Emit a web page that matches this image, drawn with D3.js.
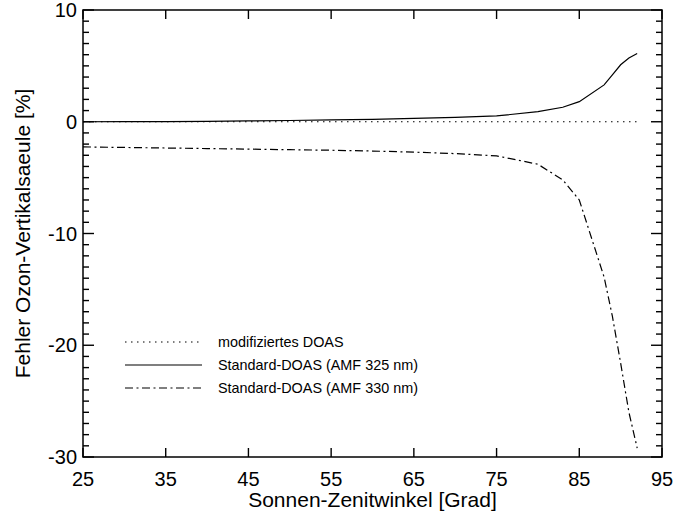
<!DOCTYPE html>
<html lang="de">
    <head>
        <meta charset="utf-8">
        <title>Fehler Ozon-Vertikalsaeule</title>
        <script type="text/javascript" src="https://cdn.jsdelivr.net/npm/d3@7"></script>
        <style type="text/css">
            body { margin: 0; background: #fff; }
            text { font-family: "Liberation Sans", Arial, sans-serif; }
        </style>
    </head>

    <body>
        <script type="text/javascript">
            // Sonnen-Zenitwinkel [Grad]
            var sza = [25, 30, 35, 40, 45, 50, 55, 60, 65, 70, 75, 80, 83, 85, 88, 89, 90, 91, 92];
            // modifiziertes DOAS
            var modDoas = [0, 0, 0, 0, 0, 0, 0, 0, 0, 0, 0, 0, 0, 0, 0, 0, 0, 0, 0];
            // Standard-DOAS (AMF 325 nm)
            var std325 = [0.0, 0.01, 0.02, 0.04, 0.07, 0.11, 0.16, 0.22, 0.3, 0.4, 0.52, 0.9, 1.3, 1.8, 3.3, 4.2, 5.1, 5.7, 6.1];
            // Standard-DOAS (AMF 330 nm)
            var std330 = [-2.25, -2.3, -2.35, -2.4, -2.45, -2.5, -2.55, -2.62, -2.72, -2.85, -3.05, -3.8, -5.2, -7.0, -13.9, -17.4, -21.6, -26.0, -29.2];

            var xTicks = [25, 35, 45, 55, 65, 75, 85, 95];
            var yTicks = [-30, -20, -10, 0, 10];
            var yMinorTicks = d3.range(-30, 11, 1);

            var legendLabels = ["modifiziertes DOAS", "Standard-DOAS (AMF 325 nm)", "Standard-DOAS (AMF 330 nm)"];
            var dashes = ["1.5,4.5", null, "8,3.5,2,3.5"];

            var w = 675;
            var h = 513;
            // plot box (avoid "top", it is window.top)
            var pLeft = 83, pRight = 662, pTop = 10, pBottom = 457;

            var svg = d3.select("body")
                        .append("svg")
                        .attr("width", w)
                        .attr("height", h);

            var x = d3.scaleLinear().domain([25, 95]).range([pLeft, pRight]);
            var y = d3.scaleLinear().domain([-30, 10]).range([pBottom, pTop]);

            // Frame first, everything else on top
            svg.append("rect")
                .attr("x", pLeft)
                .attr("y", pTop)
                .attr("width", pRight - pLeft)
                .attr("height", pBottom - pTop)
                .style("fill", "none")
                .style("stroke", "#000")
                .style("stroke-width", 1.5);

            // Tick marks on all four sides, pointing inward
            // x: major only, length 9
            svg.selectAll("line.xtick")
                .data(xTicks.concat(xTicks))
                .enter()
                .append("line")
                .attr("class", "xtick")
                .attr("x1", function(d) { return x(d); })
                .attr("x2", function(d) { return x(d); })
                .attr("y1", function(d, i) { return i < xTicks.length ? pBottom : pTop; })
                .attr("y2", function(d, i) { return i < xTicks.length ? pBottom - 9 : pTop + 9; })
                .style("stroke", "#000")
                .style("stroke-width", 1.4);

            // y: minor every 1 % (length 6), major every 10 % (length 11)
            svg.selectAll("line.ytick")
                .data(yMinorTicks.concat(yMinorTicks))
                .enter()
                .append("line")
                .attr("class", "ytick")
                .attr("x1", function(d, i) { return i < yMinorTicks.length ? pLeft : pRight; })
                .attr("x2", function(d, i) {
                    var len = (d % 10 === 0) ? 11 : 6;
                    return i < yMinorTicks.length ? pLeft + len : pRight - len;
                })
                .attr("y1", function(d) { return y(d); })
                .attr("y2", function(d) { return y(d); })
                .style("stroke", "#000")
                .style("stroke-width", 1.4);

            // Tick labels (plain hyphen for negatives, like the original)
            svg.selectAll("text.xlabel")
                .data(xTicks)
                .enter()
                .append("text")
                .attr("class", "xlabel")
                .attr("x", function(d) { return x(d); })
                .attr("y", 486)
                .attr("text-anchor", "middle")
                .attr("font-size", "20px")
                .text(function(d) { return String(d); });

            svg.selectAll("text.ylabel")
                .data(yTicks)
                .enter()
                .append("text")
                .attr("class", "ylabel")
                .attr("x", 77)
                .attr("y", function(d) { return y(d) + 7; })
                .attr("text-anchor", "end")
                .attr("font-size", "20px")
                .text(function(d) { return String(d); });

            // Curves
            var series = [modDoas, std325, std330];
            var line = d3.line()
                .x(function(d, i) { return x(sza[i]); })
                .y(function(d) { return y(d); });

            svg.selectAll("path.curve")
                .data(series)
                .enter()
                .append("path")
                .attr("class", "curve")
                .attr("d", line)
                .attr("fill", "none")
                .attr("stroke", "#000")
                .attr("stroke-width", 1.2)
                .attr("stroke-dasharray", function(d, i) { return dashes[i]; });

            // Legend
            var legend = svg.selectAll("g.legend")
                .data(legendLabels)
                .enter()
                .append("g")
                .attr("class", "legend")
                .attr("transform", function(d, i) { return "translate(125," + (342 + i * 23) + ")"; });

            legend.append("line")
                .attr("x1", 0)
                .attr("x2", 77)
                .attr("stroke", "#000")
                .attr("stroke-width", 1.2)
                .attr("stroke-dasharray", function(d, i) { return dashes[i]; });

            legend.append("text")
                .attr("x", 93)
                .attr("y", 5)
                .attr("font-size", "14.4px")
                .text(function(d) { return d; });

            // Axis titles
            svg.append("text")
                .attr("x", (pLeft + pRight) / 2)
                .attr("y", 507)
                .attr("text-anchor", "middle")
                .attr("font-size", "21px")
                .text("Sonnen-Zenitwinkel [Grad]");

            svg.append("text")
                .attr("transform", "translate(30," + ((pTop + pBottom) / 2) + ") rotate(-90)")
                .attr("text-anchor", "middle")
                .attr("font-size", "21px")
                .text("Fehler Ozon-Vertikalsaeule [%]");
        </script>
    </body>
</html>
